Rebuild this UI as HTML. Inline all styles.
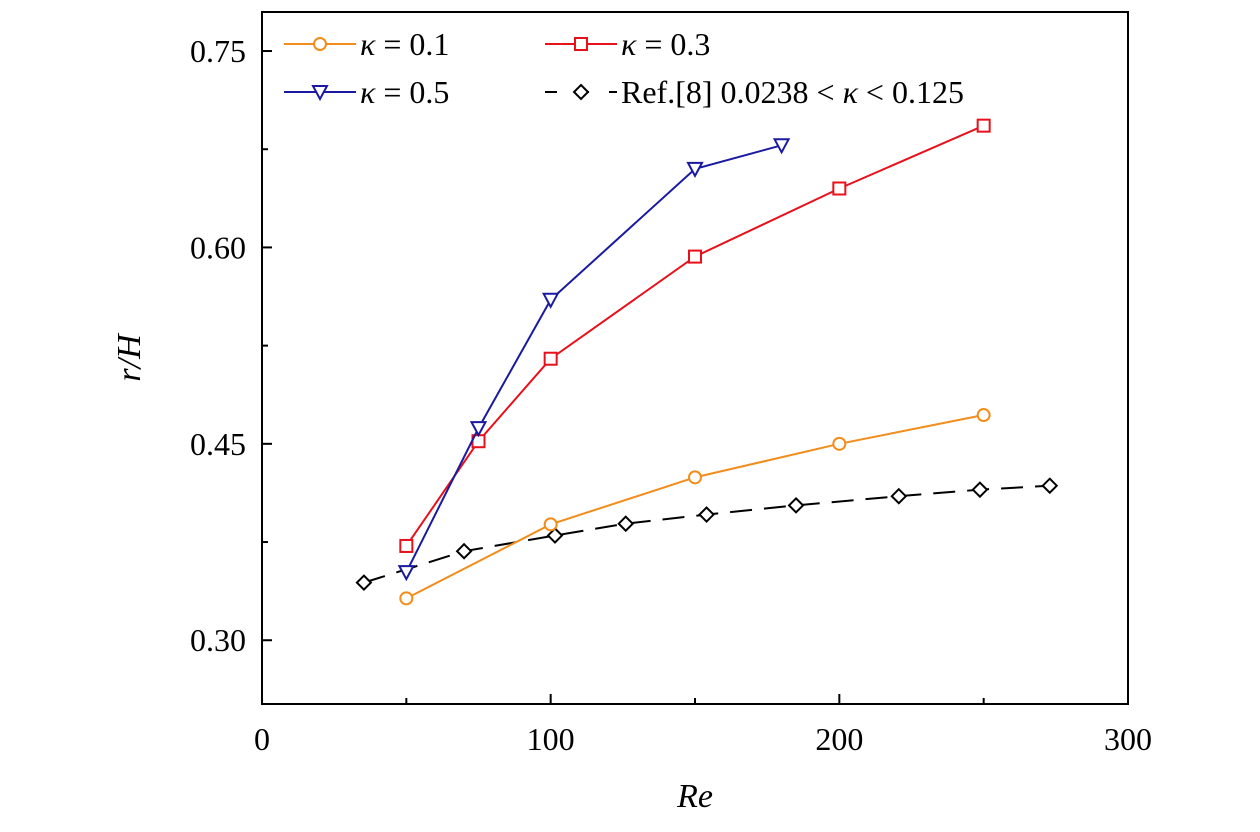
<!DOCTYPE html>
<html><head><meta charset="utf-8"><style>
body{margin:0;background:#fff;}
svg text{font-family:"Liberation Serif","DejaVu Serif",serif;}
</style></head><body>
<svg id="chart" width="1260" height="827" xmlns="http://www.w3.org/2000/svg">
<g id="grid"></g><g id="series"></g>
<rect x="262" y="12" width="866" height="692" fill="none" stroke="#000" stroke-width="2"/>
<text x="695" y="807" font-size="34" font-style="italic" text-anchor="middle">Re</text>
<text transform="translate(140,358) rotate(-90)" font-size="34" font-style="italic" text-anchor="middle">r/H</text>
<g id="legend"></g>
</svg>
<script>
const xTicks=[0,100,200,300];
const yTicks=[0.30,0.45,0.60,0.75];
const re01=[50,100,150,200,250];
const v01=[0.332,0.3885,0.4244,0.450,0.472];
const re03=[50,75,100,150,200,250];
const v03=[0.372,0.452,0.515,0.593,0.645,0.693];
const re05=[50,75,100,150,180];
const v05=[0.352,0.462,0.560,0.660,0.678];
const reRef=[35.3,70,101.5,126,154,185,220.6,248.7,272.9];
const vRef=[0.344,0.368,0.380,0.389,0.396,0.403,0.410,0.415,0.418];
const X0=262,X1=1128,Y0=12,Y1=704,xmin=0,xmax=300,ymin=0.2513,ymax=0.7798;
const sx=v=>X0+(v-xmin)/(xmax-xmin)*(X1-X0);
const sy=v=>Y1-(v-ymin)/(ymax-ymin)*(Y1-Y0);
const NS="http://www.w3.org/2000/svg";
function mk(t,a,p){const e=document.createElementNS(NS,t);for(const k in a)e.setAttribute(k,a[k]);p.appendChild(e);return e;}
const g=document.getElementById('grid');
xTicks.forEach(t=>{
 const l=mk('line',{x1:sx(t),x2:sx(t),y1:Y1,y2:Y1-10,stroke:'#000','stroke-width':2},g);
 
 
 const tx=mk('text',{x:sx(t),y:Y1+46,'font-size':32,'text-anchor':'middle'},g);tx.textContent=t;
 
 
});
for(let i=0;i<xTicks.length-1;i++){const m=(xTicks[i]+xTicks[i+1])/2;mk('line',{x1:sx(m),x2:sx(m),y1:Y1,y2:Y1-6,stroke:'#000','stroke-width':2},g);}
yTicks.forEach(t=>{
 const l=mk('line',{x1:X0,x2:X0+10,y1:sy(t),y2:sy(t),stroke:'#000','stroke-width':2},g);
 
 
 const tx=mk('text',{x:X0-16,y:sy(t)+11,'font-size':32,'text-anchor':'end'},g);tx.textContent=t.toFixed(2);
 
 
});
for(let i=0;i<yTicks.length-1;i++){const m=(yTicks[i]+yTicks[i+1])/2;mk('line',{x1:X0,x2:X0+6,y1:sy(m),y2:sy(m),stroke:'#000','stroke-width':2},g);}
const s=document.getElementById('series');
function marker(type,x,y,c,p){
 if(type==='circle')return mk('circle',{cx:x,cy:y,r:6,fill:'#fff',stroke:c,'stroke-width':2},p);
 if(type==='square')return mk('rect',{x:x-6,y:y-6,width:12,height:12,fill:'#fff',stroke:c,'stroke-width':2},p);
 if(type==='tri')return mk('polygon',{points:`${x-7},${y-6} ${x+7},${y-6} ${x},${y+7}`,fill:'#fff',stroke:c,'stroke-width':2},p);
 return mk('polygon',{points:`${x},${y-7} ${x+7},${y} ${x},${y+7} ${x-7},${y}`,fill:'#fff',stroke:c,'stroke-width':2},p);
}
function series(xs,ys,c,type,dash,name){
 const grp=mk('g',{},s);
 
 
 mk('polyline',{points:xs.map((x,i)=>sx(x)+','+sy(ys[i])).join(' '),fill:'none',stroke:c,'stroke-width':2,'stroke-dasharray':dash||'none'},grp);
 xs.forEach((x,i)=>{const m=marker(type,sx(x),sy(ys[i]),c,grp);
  
  });
}
series(reRef,vRef,'#000','diamond','22,12','series-ref8');
series(re01,v01,'#f28c1a','circle','','series-kappa-0-1');
series(re03,v03,'#e8101a','square','','series-kappa-0-3');
series(re05,v05,'#1a1aa0','tri','','series-kappa-0-5');
const lg=document.getElementById('legend');
function entry(x,y,c,type,dash,label,name){
 const grp=mk('g',{},lg);
 
 
 mk('line',{x1:x,x2:x+72,y1:y,y2:y,stroke:c,'stroke-width':2,'stroke-dasharray':dash||'none'},grp);
 marker(type,x+36,y,c,grp);
 const t=mk('text',{x:x+76,y:y+11,'font-size':32},grp);t.innerHTML=label;
}
entry(284,44,'#f28c1a','circle','','<tspan font-style="italic">κ</tspan> = 0.1','legend-kappa-0-1');
entry(545,44,'#e8101a','square','','<tspan font-style="italic">κ</tspan> = 0.3','legend-kappa-0-3');
entry(284,92,'#1a1aa0','tri','','<tspan font-style="italic">κ</tspan> = 0.5','legend-kappa-0-5');
entry(545,92,'#000','diamond','12,20','Ref.[8]  0.0238 &lt; <tspan font-style="italic">κ</tspan> &lt; 0.125','legend-ref8');
</script>
</body></html>
